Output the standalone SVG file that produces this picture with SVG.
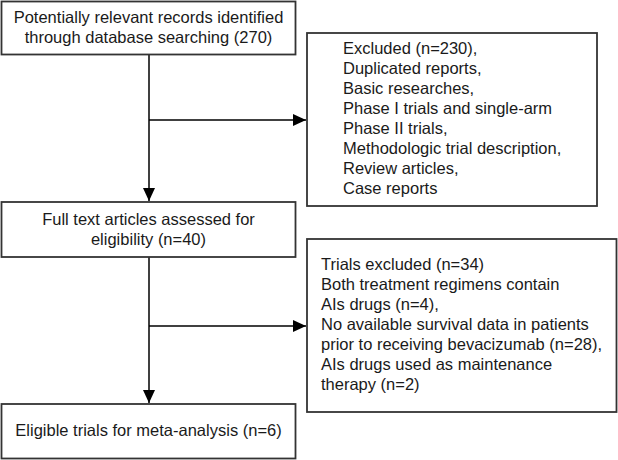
<svg xmlns="http://www.w3.org/2000/svg" width="618" height="460" viewBox="0 0 618 460">
<style>
.box{fill:#fff;stroke:#333;stroke-width:1.8}
.t{font-family:"Liberation Sans",Arial,sans-serif;font-size:16.5px;fill:#1a1a1a}
.c{text-anchor:middle}
.ln{stroke:#000;stroke-width:1.5;fill:none}
</style>
<defs>
<marker id="ah" markerUnits="userSpaceOnUse" markerWidth="14" markerHeight="14" viewBox="0 0 14 14" refX="13" refY="7" orient="auto">
<path d="M0,1 L13,7 L0,13 Z" fill="#000"/>
</marker>
</defs>
<rect width="618" height="460" fill="#fff"/>
<g id="connectors">
<path class="ln" d="M149,55 V201" marker-end="url(#ah)"/>
<path class="ln" d="M149,120 H306" marker-end="url(#ah)"/>
<path class="ln" d="M149,257 V403" marker-end="url(#ah)"/>
<path class="ln" d="M149,326 H306" marker-end="url(#ah)"/>
</g>
<g id="records">
<rect class="box" x="1.5" y="1.5" width="294" height="53"/>
<text class="t c" x="148.5" y="23">Potentially relevant records identified</text>
<text class="t c" x="148.5" y="43">through database searching (270)</text>
</g>
<g id="excluded1">
<rect class="box" x="307" y="33" width="290" height="173"/>
<text class="t" x="343" y="54">Excluded (n=230),</text>
<text class="t" x="343" y="74">Duplicated reports,</text>
<text class="t" x="343" y="94">Basic researches,</text>
<text class="t" x="343" y="114">Phase I trials and single-arm</text>
<text class="t" x="343" y="134">Phase II trials,</text>
<text class="t" x="343" y="154">Methodologic trial description,</text>
<text class="t" x="343" y="174">Review articles,</text>
<text class="t" x="343" y="194">Case reports</text>
</g>
<g id="fulltext">
<rect class="box" x="1.5" y="202" width="294" height="55"/>
<text class="t c" x="148.5" y="225">Full text articles assessed for</text>
<text class="t c" x="148.5" y="245">eligibility (n=40)</text>
</g>
<g id="excluded2">
<rect class="box" x="307" y="239" width="309.5" height="173"/>
<text class="t" x="321" y="270">Trials excluded (n=34)</text>
<text class="t" x="321" y="290">Both treatment regimens contain</text>
<text class="t" x="321" y="310">AIs drugs (n=4),</text>
<text class="t" x="321" y="330">No available survival data in patients</text>
<text class="t" x="321" y="350">prior to receiving bevacizumab (n=28),</text>
<text class="t" x="321" y="370">AIs drugs used as maintenance</text>
<text class="t" x="321" y="390">therapy (n=2)</text>
</g>
<g id="eligible">
<rect class="box" x="1.5" y="404" width="294" height="54.5"/>
<text class="t c" x="148.5" y="436">Eligible trials for meta-analysis (n=6)</text>
</g>
</svg>
